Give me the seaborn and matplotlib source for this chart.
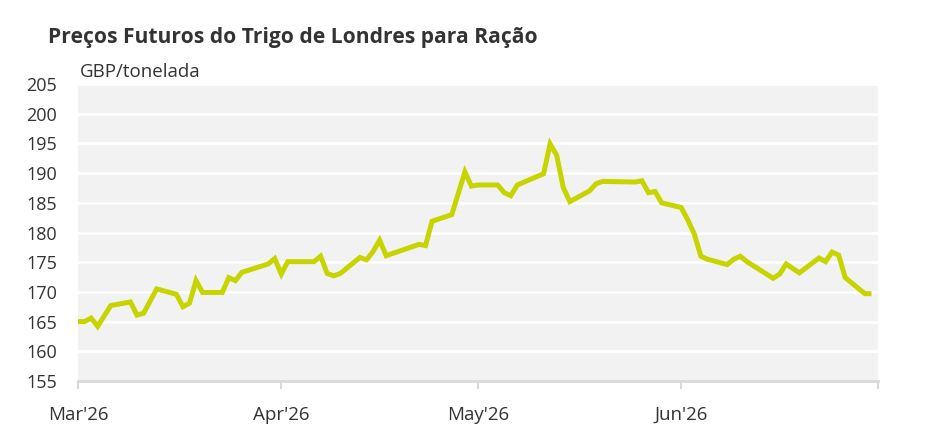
import pandas as pd
import matplotlib.pyplot as plt
import seaborn as sns

# ── Data ───────────────────────────────────────────────────────────────────
dates = [
    "2026-03-01", "2026-03-02", "2026-03-03", "2026-03-04", "2026-03-06",
    "2026-03-09", "2026-03-10", "2026-03-11", "2026-03-13", "2026-03-16",
    "2026-03-17", "2026-03-18", "2026-03-19", "2026-03-20", "2026-03-23",
    "2026-03-24", "2026-03-25", "2026-03-26", "2026-03-30", "2026-03-31",
    "2026-04-01", "2026-04-02", "2026-04-06", "2026-04-07", "2026-04-08",
    "2026-04-09", "2026-04-10", "2026-04-13", "2026-04-14", "2026-04-15",
    "2026-04-16", "2026-04-17", "2026-04-22", "2026-04-23", "2026-04-24",
    "2026-04-27", "2026-04-29", "2026-04-30", "2026-05-01", "2026-05-04",
    "2026-05-05", "2026-05-06", "2026-05-07", "2026-05-11", "2026-05-12",
    "2026-05-13", "2026-05-14", "2026-05-15", "2026-05-18", "2026-05-19",
    "2026-05-20", "2026-05-25", "2026-05-26", "2026-05-27", "2026-05-28",
    "2026-05-29", "2026-06-01", "2026-06-02", "2026-06-03", "2026-06-04",
    "2026-06-05", "2026-06-08", "2026-06-09", "2026-06-10", "2026-06-11",
    "2026-06-12", "2026-06-15", "2026-06-16", "2026-06-17", "2026-06-19",
    "2026-06-22", "2026-06-23", "2026-06-24", "2026-06-25", "2026-06-26",
    "2026-06-29", "2026-06-30",
]
prices = [
    165.0, 165.0, 165.6, 164.2, 167.7,
    168.3, 166.1, 166.4, 170.5, 169.6,
    167.5, 168.1, 171.9, 169.9, 169.9,
    172.4, 171.9, 173.3, 174.7, 175.6,
    173.0, 175.1, 175.1, 176.0, 173.1,
    172.7, 173.1, 175.8, 175.4, 176.8,
    178.7, 176.1, 178.0, 177.8, 181.9,
    183.0, 190.2, 187.8, 188.0, 188.0,
    186.7, 186.2, 188.0, 189.9, 194.9,
    193.0, 187.6, 185.2, 187.0, 188.2,
    188.6, 188.5, 188.7, 186.7, 186.9,
    185.0, 184.2, 182.1, 179.7, 176.0,
    175.5, 174.6, 175.5, 176.0, 175.1,
    174.4, 172.3, 173.0, 174.7, 173.2,
    175.7, 175.1, 176.7, 176.2, 172.4,
    169.7, 169.7,
]
month_ticks = ["2026-03-01", "2026-04-01", "2026-05-01", "2026-06-01", "2026-07-01"]
month_labels = ["Mar'26", "Apr'26", "May'26", "Jun'26", ""]
y_ticks = list(range(155, 206, 5))

df = pd.DataFrame({"date": pd.to_datetime(dates), "price": prices})

# ── Style ──────────────────────────────────────────────────────────────────
sns.set_theme(style="white")
plt.rcParams["font.family"] = ["Open Sans", "DejaVu Sans"]

TXT = "#333333"
LINE = "#c8d400"

fig = plt.figure(figsize=(9.45, 4.43), dpi=100)
ax = fig.add_axes([78 / 945, 1 - 381 / 443, 800 / 945, (381 - 84) / 443])
ax.set_facecolor("#f2f2f2")

sns.lineplot(data=df, x="date", y="price", ax=ax, color=LINE, linewidth=3.6,
             solid_joinstyle="miter", solid_capstyle="butt")

ax.set_xlim(pd.Timestamp(month_ticks[0]), pd.Timestamp(month_ticks[-1]))
ax.set_ylim(155, 205)
ax.set_yticks(y_ticks)
ax.set_xticks(pd.to_datetime(month_ticks))
ax.set_xticklabels(month_labels)

ax.grid(axis="y", color="white", linewidth=2)
ax.grid(axis="x", visible=False)
ax.set_axisbelow(True)

for side in ["top", "right", "left"]:
    ax.spines[side].set_visible(False)
ax.spines["bottom"].set_color("#d9d9d9")
ax.spines["bottom"].set_linewidth(2)

ax.tick_params(axis="x", length=6, width=1.5, color="#d9d9d9", bottom=True,
               labelsize=13.5, labelcolor=TXT, pad=12)
ax.tick_params(axis="y", length=0, labelsize=13, labelcolor=TXT, pad=15)

ax.set_xlabel("")
ax.set_ylabel("")

# ── Titles ─────────────────────────────────────────────────────────────────
fig.text(48 / 945, 1 - 37 / 443, "Preços Futuros do Trigo de Londres para Ração",
         fontsize=15.1, fontweight="bold", color=TXT, va="center", ha="left")
fig.text(80 / 945, 1 - 72 / 443, "GBP/tonelada",
         fontsize=13.5, color=TXT, va="center", ha="left")

fig.savefig("out.png", dpi=100)
